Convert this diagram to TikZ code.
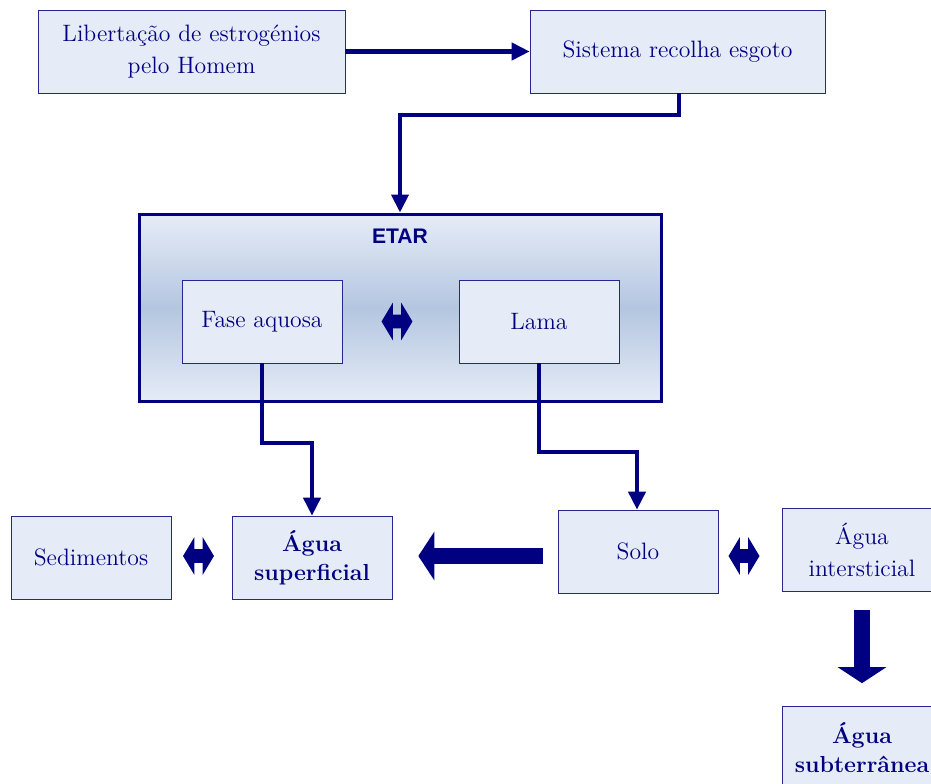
\documentclass[tikz,border=0pt]{standalone}
\usepackage{fontspec}
\setsansfont{Liberation Sans}
\usetikzlibrary{arrows.meta,shapes.arrows}
\definecolor{VNavy}{HTML}{000080}
\definecolor{VFill}{HTML}{E6ECF7}
\definecolor{VMid}{HTML}{B4C6E0}
\tikzset{
    block/.style = {draw=VNavy!85, fill=VFill, rectangle, thin,
        minimum height=1.66cm,
        minimum width=3.2cm, align=center, text=VNavy,
        font=\fontsize{13.5}{18}\selectfont},
    boldblock/.style = {block, font=\fontsize{13.2}{16.5}\selectfont\bfseries},
    etarbox/.style = {draw=VNavy, line width=1.7pt, rectangle,
        top color=VFill, bottom color=VFill, middle color=VMid,
        minimum width=10.46cm, minimum height=3.76cm},
    arrow/.style = {draw=VNavy, line width=2.3pt, line cap=butt,
        -{Triangle[length=0.36cm,width=0.34cm]}},
    bigarrow/.style = {draw=VNavy, line width=0.32cm,
        -{Triangle[length=0.32cm,width=0.96cm]}},
    dblarrow/.style = {double arrow, fill=VNavy, inner xsep=0pt, inner ysep=0.13cm,
        minimum height=0.62cm,
        double arrow head extend=0.24cm, double arrow tip angle=118}
}

\begin{document}
\begin{tikzpicture}[x=0.02cm,y=-0.02cm]
  \useasboundingbox (0,0) rectangle (931,784);
  % top row
  \node[block, minimum width=6.14cm] (lib) at (191.5,51.5) {Libertação de estrogénios\\pelo Homem};
  \node[block, minimum width=5.9cm] (sis) at (677.5,51.5) {Sistema recolha esgoto};
  % ETAR
  \node[etarbox] (etar) at (400.5,308) {};
  \node[font=\sffamily\bfseries\fontsize{12}{14}\selectfont, text=VNavy] (etarlbl) at (400,236) {ETAR};
  \node[block] (fase) at (262,321.5) {Fase aquosa};
  \node[block] (lama) at (539,321.5) {Lama};
  \node[dblarrow] (dlama) at (397,321.5) {};
  % bottom row
  \node[block] (sed) at (91,557.5) {Sedimentos};
  \node[boldblock] (agsup) at (312,557.5) {Água\\superficial};
  \node[block] (solo) at (638,551.5) {Solo};
  \node[block] (agint) at (862,550) {Água\\intersticial};
  \node[boldblock] (agsub) at (862,748) {Água\\subterrânea};
  \node[dblarrow] (dsed) at (198.5,556) {};
  \node[dblarrow] (dsolo) at (744,556) {};
  % connectors
  \draw[arrow] (lib.east) -- (sis.west);
  \draw[arrow] (sis.south -| 679,0) |- (400,115) -- (etar.north -| 400,0);
  \draw[arrow] (fase.south) |- (312,443) -- (agsup.north);
  \draw[arrow] (lama.south) |- (637,452) -- (solo.north -| 637,0);
  \draw[bigarrow, shorten <=0.3cm, shorten >=0.52cm] (solo.west |- dsolo) -- (agsup.east |- dsolo);
  \draw[bigarrow, shorten <=0.36cm, shorten >=0.46cm] (agint.south) -- (agsub.north);
\end{tikzpicture}
\end{document}
